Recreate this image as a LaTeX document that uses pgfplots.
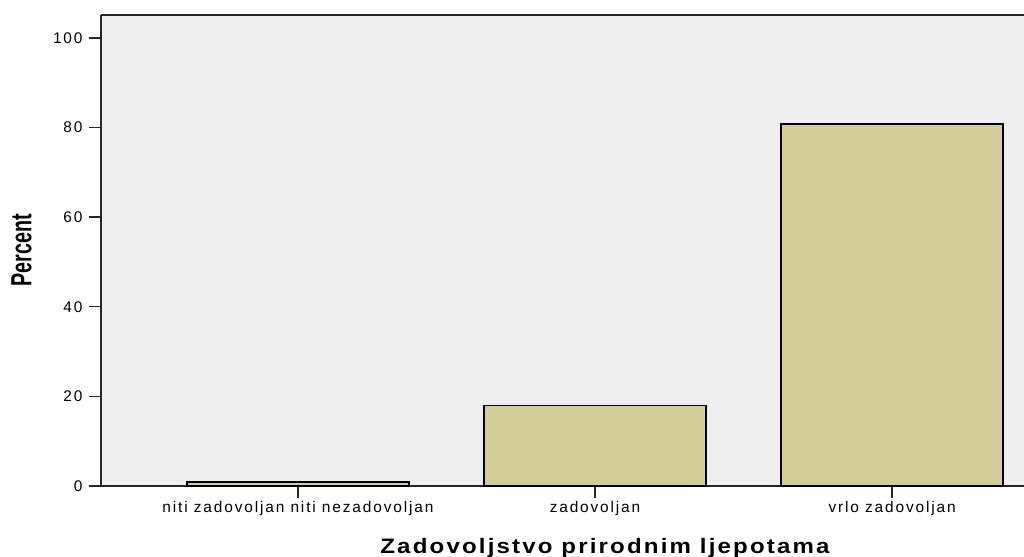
\documentclass[border=0pt]{standalone}
\usepackage{pgfplots}
\pgfplotsset{compat=1.18}
\usepackage{fontspec}
\setmainfont{Liberation Sans}
\newfontfamily\spss[LetterSpace=12]{Liberation Sans}
\newfontfamily\spsswide[LetterSpace=9]{Liberation Sans}
\definecolor{barfill}{HTML}{D3CE98}
\definecolor{bgfill}{HTML}{EFEFEF}

\begin{document}
\begin{tikzpicture}
\begin{axis}[
	scale only axis,
	width=923bp, height=471bp,
	xmin=-0.663, xmax=2.444,
	ymin=0, ymax=105.1,
	axis x line*=bottom,
	axis y line*=left,
	axis background/.style={fill=bgfill},
	axis line style={line width=1.4bp, black!85},
	ytick={0,20,...,100},
	xtick={0,1,2},
	xticklabels={niti zadovoljan niti nezadovoljan, zadovoljan, vrlo zadovoljan},
	tick align=outside,
	major tick length=12bp,
	tick style={line width=1.4bp, black!85},
	ticklabel style={font=\spss\fontsize{15.5}{18}\selectfont},
	/pgf/number format/assume math mode=true,
	yticklabel style={xshift=-3bp},
	ylabel={\scalebox{0.9}[1.33]{Percent}},
	every axis y label/.style={at={(axis description cs:-0.0861,0.5)}, anchor=center, rotate=90,
		font=\bfseries\fontsize{22}{24}\selectfont},
	xlabel={\scalebox{1.15}[1]{Zadovoljstvo prirodnim ljepotama}},
	every axis x label/.style={at={(axis description cs:0.546,0)}, anchor=base, yshift=-67bp,
		font=\spsswide\bfseries\fontsize{21}{24}\selectfont},
	ybar, bar width=222bp,
]
	\addplot[fill=barfill, draw=black, line width=1.3bp] coordinates {
		(0, 0.9)
		(1, 17.9)
		(2, 80.8)
	};
	\coordinate (O) at (rel axis cs:0,0);
	\draw[line width=1.4bp, black!85] (rel axis cs:0,1) -- (rel axis cs:1,1);
\end{axis}
\pgfresetboundingbox
\path ([shift={(-101bp,-71bp)}]O) rectangle ([shift={(923bp,486bp)}]O);
\end{tikzpicture}
\end{document}
